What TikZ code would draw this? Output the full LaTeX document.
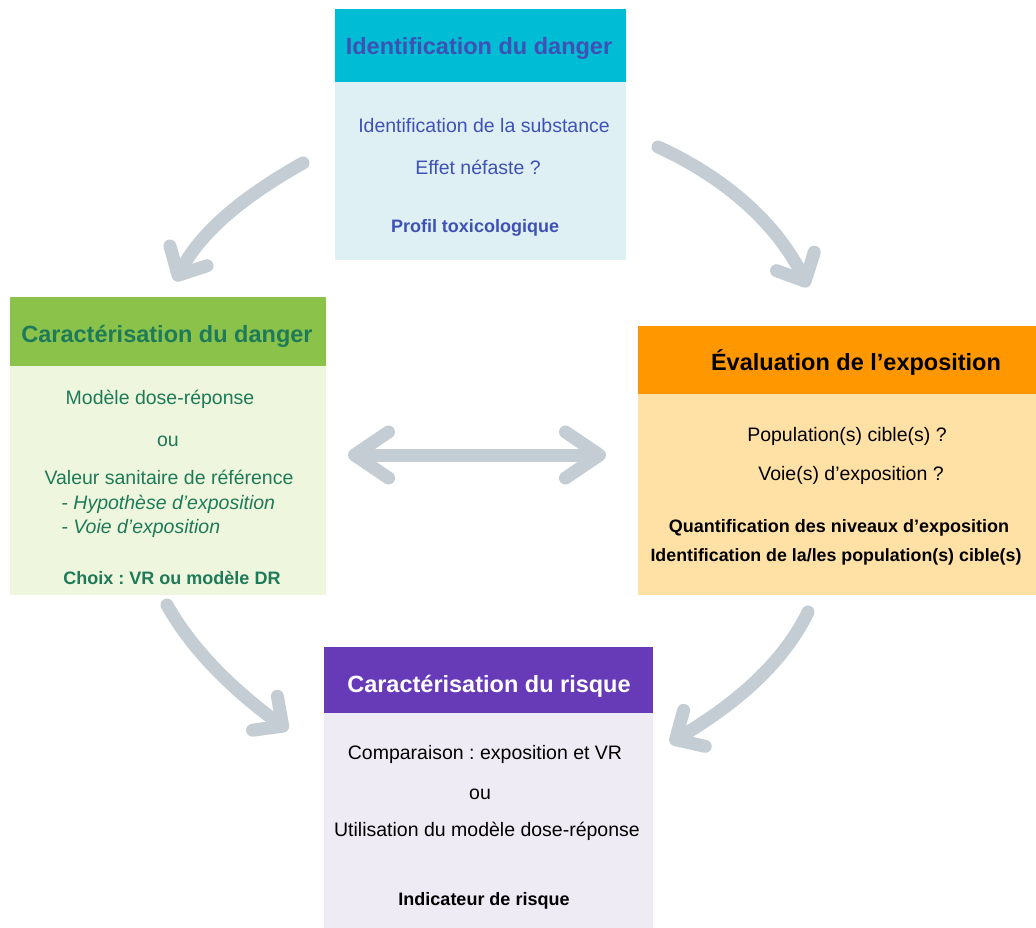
\documentclass[tikz,border=0pt]{standalone}
\usepackage{fontspec}
\setmainfont{Liberation Sans}
\usetikzlibrary{arrows.meta}
\definecolor{idhead}{HTML}{00BCD4}
\definecolor{idfill}{HTML}{DFF0F4}
\definecolor{idtext}{HTML}{3F51B5}
\definecolor{cdhead}{HTML}{8BC34A}
\definecolor{cdfill}{HTML}{EEF6DE}
\definecolor{cdtext}{HTML}{1E7A58}
\definecolor{exhead}{HTML}{FF9800}
\definecolor{exfill}{HTML}{FFE1A6}
\definecolor{crhead}{HTML}{673AB7}
\definecolor{crfill}{HTML}{EFEBF5}
\definecolor{flow}{HTML}{C3CDD3}
\frenchspacing
\begin{document}
\begin{tikzpicture}[x=1pt,y=-1pt,
  box/.style={anchor=north west,inner sep=0pt},
  title/.style={font=\fontsize{23.5}{26}\selectfont\bfseries},
  txt/.style={font=\fontsize{19.5}{22}\selectfont},
  btxt/.style={font=\fontsize{18}{21}\selectfont\bfseries},
  flowarrow/.style={draw=flow,line width=13pt,line cap=round,-{Straight Barb[round,length=22pt,width=42pt]}}]
  \useasboundingbox (0,0) rectangle (1036,928);
  \node[box,fill=idhead,minimum width=291pt,minimum height=73pt] (idh) at (335,9) {};
  \node[box,fill=idfill,minimum width=291pt,minimum height=178pt] (idb) at (335,82) {};
  \node[box,fill=cdhead,minimum width=316pt,minimum height=69pt] (cdh) at (10,297) {};
  \node[box,fill=cdfill,minimum width=316pt,minimum height=229pt] (cdb) at (10,366) {};
  \node[box,fill=exhead,minimum width=398pt,minimum height=68pt] (exh) at (638,326) {};
  \node[box,fill=exfill,minimum width=398pt,minimum height=201pt] (exb) at (638,394) {};
  \node[box,fill=crhead,minimum width=329pt,minimum height=66pt] (crh) at (324,647) {};
  \node[box,fill=crfill,minimum width=329pt,minimum height=215pt] (crb) at (324,713) {};
  \node[title,text=idtext] (idt) at (479,48) {Identification du danger};
  \node[txt,text=idtext] (id1) at (484,126) {Identification de la substance};
  \node[txt,text=idtext] (id2) at (478,167) {Effet néfaste ?};
  \node[btxt,text=idtext] (id3) at (475,228) {Profil toxicologique};
  \node[title,text=cdtext] (cdt) at (167,336) {Caractérisation du danger};
  \node[txt,text=cdtext] (cd1) at (160,399) {Modèle dose-réponse};
  \node[txt,text=cdtext] (cd2) at (168,441) {ou};
  \node[txt,text=cdtext] (cd3) at (169,477) {Valeur sanitaire de référence};
  \node[txt,text=cdtext,anchor=west] (cd4) at (58,504) {- \textit{Hypothèse d’exposition}};
  \node[txt,text=cdtext,anchor=west] (cd5) at (58,528) {- \textit{Voie d’exposition}};
  \node[btxt,text=cdtext] (cd6) at (172,578) {Choix : VR ou modèle DR};
  \node[title] (ext) at (856,363) {Évaluation de l’exposition};
  \node[txt] (ex1) at (847,436) {Population(s) cible(s) ?};
  \node[txt] (ex2) at (851,475) {Voie(s) d'exposition ?};
  \node[btxt] (ex3) at (839,528) {Quantification des niveaux d’exposition};
  \node[btxt,font=\fontsize{17.8}{21}\selectfont\bfseries,anchor=west] (ex4) at (647,557) {Identification de la/les population(s) cible(s)};
  \node[title,text=white] (crt) at (489,686) {Caractérisation du risque};
  \node[txt] (cr1) at (485,754) {Comparaison : exposition et VR};
  \node[txt] (cr2) at (480,794) {ou};
  \node[txt] (cr3) at (487,831) {Utilisation du modèle dose-réponse};
  \node[btxt] (cr4) at (484,901) {Indicateur de risque};
  \coordinate (idl) at (303,163);
  \coordinate (cdtop) at (175,281);
  \coordinate (idr) at (658,147);
  \coordinate (extop) at (808,287);
  \coordinate (cdr) at (348,455);
  \coordinate (exl) at (606,455);
  \coordinate (cdbot) at (167,605);
  \coordinate (crl) at (288,730);
  \coordinate (exbot) at (808,612);
  \coordinate (crr) at (670,743);
  \draw[flowarrow] (idl) .. controls (255,190) and (205,225) .. (cdtop);
  \draw[flowarrow] (idr) .. controls (720,175) and (775,220) .. (extop);
  \draw[flowarrow,{Straight Barb[round,length=34pt,width=46pt]}-{Straight Barb[round,length=34pt,width=46pt]}] (cdr) -- (exl);
  \draw[flowarrow] (cdbot) .. controls (195,655) and (240,695) .. (crl);
  \draw[flowarrow] (exbot) .. controls (780,670) and (725,710) .. (crr);
\end{tikzpicture}
\end{document}
